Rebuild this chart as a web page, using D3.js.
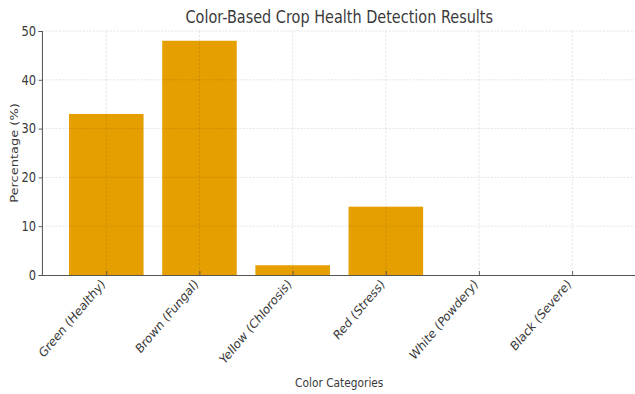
<!DOCTYPE html>
<html>
<head>
<meta charset="utf-8">
<script src="https://cdn.jsdelivr.net/npm/d3@7"></script>
<style>
  html, body { margin: 0; padding: 0; background: #fff; }
  svg text { font-family: "DejaVu Sans", sans-serif; fill: #3a3a3a; }
</style>
</head>
<body>
<svg id="chart" width="635" height="394"></svg>
<script>
// Share of crop samples in each colour-based health class
const categories = ["Green (Healthy)", "Brown (Fungal)", "Yellow (Chlorosis)", "Red (Stress)", "White (Powdery)", "Black (Severe)"];
const percentages = [33, 48, 2, 14, 0, 0];
const yTicks = [0, 10, 20, 30, 40, 50];

const W = 635, H = 394;
const sx = 0.85;              // horizontal compression of the whole figure

const plotLeft = 42 / sx, plotRight = 636.5 / sx, plotTop = 31, plotBottom = 275;

const svg = d3.select("#chart");
const g = svg.append("g").attr("transform", `scale(${sx},1)`);

// x: categorical positions 0..5 with matplotlib-like padding
const xLin = d3.scaleLinear().domain([-0.69, categories.length - 1 + 0.69]).range([plotLeft, plotRight]);
const barW = xLin(0.4) - xLin(-0.4);
const y = d3.scaleLinear().domain([0, 50]).range([plotBottom, plotTop]);

// bars
g.append("g").selectAll("rect").data(percentages).join("rect")
  .attr("x", (d, i) => xLin(i) - barW / 2)
  .attr("y", d => y(d))
  .attr("width", barW)
  .attr("height", d => plotBottom - y(d))
  .attr("fill", "#E69F00");

// grid
const grid = g.append("g").attr("stroke", "#000").attr("stroke-opacity", 0.14)
  .attr("stroke-dasharray", "2.5,1.5").attr("stroke-width", 0.8);
grid.selectAll(".gy").data(yTicks.filter(t => t > 0)).join("line")
  .attr("x1", plotLeft).attr("x2", plotRight).attr("y1", d => y(d)).attr("y2", d => y(d));
grid.selectAll(".gx").data(categories).join("line")
  .attr("x1", (d, i) => xLin(i)).attr("x2", (d, i) => xLin(i))
  .attr("y1", plotTop).attr("y2", plotBottom);

// y axis
const yAxis = g.append("g").attr("transform", `translate(${plotLeft},0)`)
  .call(d3.axisLeft(y).tickValues(yTicks).tickSize(4).tickPadding(3).tickFormat(d3.format("d")));
yAxis.attr("font-family", null);
yAxis.select(".domain").attr("stroke", "#555").attr("stroke-width", 1.2);
yAxis.selectAll(".tick line").attr("stroke", "#555");
yAxis.selectAll(".tick text").attr("font-size", 13.5).attr("fill", "#3a3a3a");

// x axis
const xAxis = g.append("g").attr("transform", `translate(0,${plotBottom})`)
  .call(d3.axisBottom(xLin).tickValues(d3.range(categories.length)).tickSize(-4).tickSizeOuter(0)
    .tickFormat(i => categories[i]));
xAxis.attr("font-family", null);
xAxis.select(".domain").attr("stroke", "#555").attr("stroke-width", 1.2);
xAxis.selectAll(".tick line").attr("stroke", "#555");
xAxis.selectAll(".tick text")
  .attr("font-size", 13)
  .attr("fill", "#3a3a3a")
  .attr("text-anchor", "end")
  .attr("dy", null)
  .attr("y", 0)
  .attr("transform", "translate(-1,10) rotate(-45)");

// titles
g.append("text").attr("x", (plotLeft + plotRight) / 2).attr("y", 23)
  .attr("text-anchor", "middle").attr("font-size", 17)
  .text("Color-Based Crop Health Detection Results");

g.append("text").attr("x", (plotLeft + plotRight) / 2).attr("y", 387)
  .attr("text-anchor", "middle").attr("font-size", 12.5)
  .text("Color Categories");

g.append("text")
  .attr("transform", `translate(${18 / sx},${(plotTop + plotBottom) / 2}) rotate(-90)`)
  .attr("text-anchor", "middle").attr("font-size", 13)
  .text("Percentage (%)");
</script>
</body>
</html>
